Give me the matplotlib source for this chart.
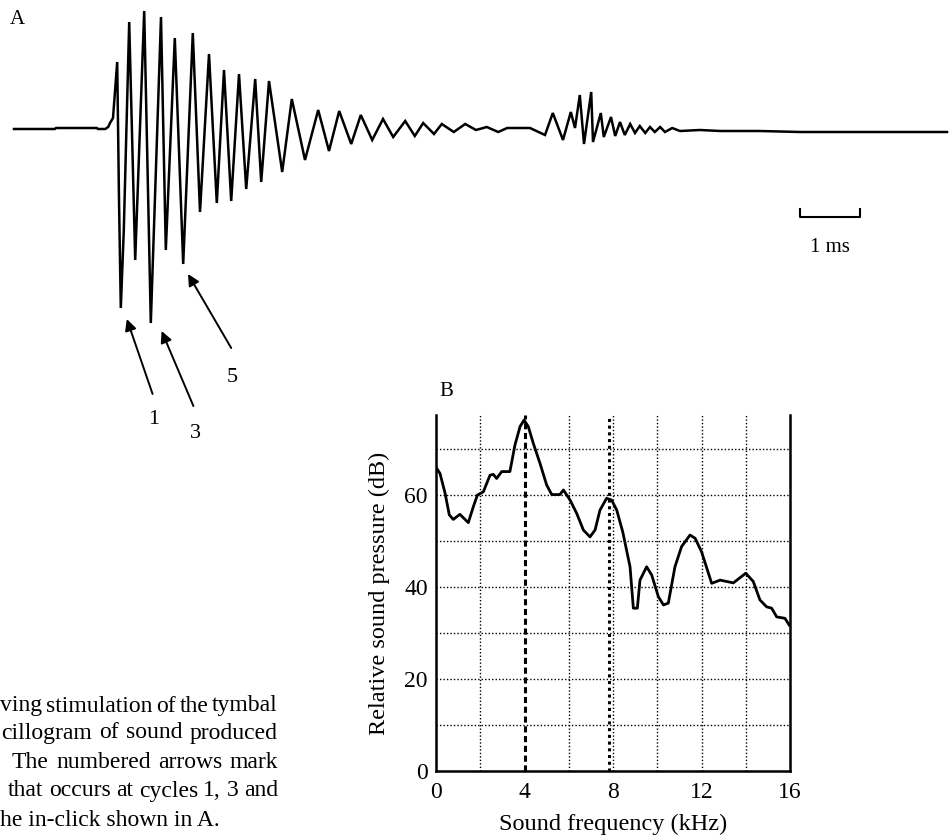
import matplotlib
matplotlib.use("Agg")
import matplotlib.pyplot as plt

plt.rcParams['font.family'] = ['Liberation Serif', 'DejaVu Serif']

# ---- Panel A: oscillogram (time in ms, amplitude in arbitrary units) ----
wave_t = [0.00, 0.68, 0.70, 1.38, 1.40, 1.52, 1.57, 1.60, 1.65, 1.72, 1.75, 1.78, 1.83,
          1.92, 2.02, 2.17, 2.28, 2.45, 2.53, 2.68, 2.82, 2.98, 3.10, 3.25, 3.38, 3.50,
          3.62, 3.75, 3.87, 4.02, 4.12, 4.25, 4.47, 4.63, 4.85, 5.07, 5.25, 5.42, 5.62,
          5.78, 5.97, 6.15, 6.32, 6.52, 6.68, 6.82, 7.00, 7.13, 7.33, 7.52, 7.70, 7.88,
          8.07, 8.22, 8.60, 8.85, 8.98, 9.15, 9.28, 9.35, 9.43, 9.50, 9.62, 9.65, 9.78,
          9.83, 9.95, 10.02, 10.10, 10.18, 10.27, 10.35, 10.43, 10.52, 10.60, 10.68,
          10.77, 10.85, 10.97, 11.10, 11.43, 11.77, 12.43, 13.10, 13.93, 15.55]
wave_amp = [0.0, 0.0, 0.1, 0.1, 0.0, 0.0, 0.2, 0.6, 1.1, 6.7, -7.1, -17.9, -10.1,
            10.7, -13.1, 11.8, -19.4, 11.2, -12.1, 9.1, -13.5, 9.6, -8.3, 7.5, -7.4, 5.9,
            -7.2, 5.5, -6.0, 5.0, -5.3, 4.8, -4.3, 3.0, -3.1, 1.9, -2.2, 1.8, -1.5,
            1.4, -1.1, 1.0, -0.8, 0.8, -0.7, 0.6, -0.5, 0.5, -0.3, 0.5, -0.1, 0.2,
            -0.3, 0.1, 0.1, -0.6, 1.6, -1.1, 1.7, 0.1, 3.4, -1.5, 3.7, -1.3, 1.6,
            -0.8, 1.2, -0.7, 0.7, -0.6, 0.5, -0.4, 0.3, -0.4, 0.2, -0.3,
            0.2, -0.3, 0.1, -0.2, -0.1, -0.2, -0.2, -0.3, -0.3, -0.3]

arrow_labels = ["1", "3", "5"]

# ---- Panel B: spectrum ----
freq_khz = [0.03, 0.18, 0.41, 0.60, 0.78, 1.08, 1.46, 1.69, 1.87, 2.14, 2.44, 2.59, 2.74,
            2.97, 3.34, 3.57, 3.80, 3.98, 4.17, 4.40, 4.70, 5.00, 5.23, 5.60, 5.76, 6.06,
            6.36, 6.66, 6.96, 7.19, 7.41, 7.71, 7.94, 8.17, 8.44, 8.77, 8.92, 9.10, 9.22,
            9.52, 9.75, 10.05, 10.28, 10.50, 10.80, 11.10, 11.48, 11.71, 12.00, 12.24,
            12.46, 12.84, 13.44, 14.00, 14.34, 14.64, 14.94, 15.17, 15.40, 15.77, 15.97]
level_db = [65.8, 64.7, 60.4, 55.7, 54.7, 55.8, 54.0, 57.5, 60.0, 60.7, 64.3, 64.5, 63.6,
            65.1, 65.1, 70.9, 74.9, 76.3, 74.9, 71.2, 66.9, 62.2, 60.1, 60.1, 61.1, 58.9,
            56.0, 52.4, 50.9, 52.4, 56.7, 59.3, 58.9, 56.7, 52.0, 44.4, 35.4, 35.4, 41.5,
            44.4, 42.6, 37.9, 36.1, 36.5, 44.4, 48.8, 51.3, 50.6, 47.7, 44.1,
            40.8, 41.5, 40.9, 43.0, 41.2, 37.2, 35.7, 35.4, 33.5, 33.2, 31.7]
x_ticks = [0, 4, 8, 12, 16]
y_ticks = [0, 20, 40, 60]
x_grid = [2, 6, 8, 10, 12, 14]
y_grid = [10, 20, 30, 40, 50, 60, 70]
peak_dashed = 4.0
peak_dotted = 7.8

# caption fragment (justified lines)
caption = ["ving stimulation of the tymbal",
           "cillogram of sound produced",
           "The numbered arrows mark",
           "that occurs at cycles 1, 3 and",
           "he in-click shown in A."]

W, H = 953, 836
fig = plt.figure(figsize=(W / 100, H / 100), dpi=100)

# Panel A axes spans the whole figure
axA = fig.add_axes([0, 0, 1, 1])
axA.set_xlim(-14 / 60, 939 / 60)
axA.set_ylim(-70.7, 12.9)
axA.axis('off')
axA.plot(wave_t, wave_amp, color='black', lw=1.8, solid_joinstyle='miter')

arrows = [((2.31, -26.5), (1.88, -19.0), (2.32, -29.1)),
          ((2.99, -27.7), (2.46, -20.2), (3.03, -30.5)),
          ((3.62, -21.9), (2.90, -14.5), (3.63, -24.8))]
for (tail, head, lab), txt in zip(arrows, arrow_labels):
    axA.annotate('', xy=head, xytext=tail,
                 arrowprops=dict(arrowstyle='-|>', color='black', lw=1.4,
                                 mutation_scale=17, shrinkA=0, shrinkB=0))
    axA.text(lab[0], lab[1], txt, ha='center', va='center', fontsize=16)

# scale bar 1 ms
axA.plot([13.1, 13.1, 14.1, 14.1], [-8.0, -8.8, -8.8, -8.0], color='black', lw=1.5)
axA.text(13.6, -11.9, '1 ms', ha='center', va='center', fontsize=15)

fig.text(17 / W, 1 - 20 / H, 'A', ha='center', va='center', fontsize=15)
fig.text(446 / W, 1 - 391 / H, 'B', ha='center', va='center', fontsize=15)

# justified caption
cap_fs = 17
cap_y = [706, 733, 762, 791, 820]
cap_left = [0, 1, 12, 8, 0]
cap_right = 278
renderer = fig.canvas.get_renderer()
for i, (line, yy) in enumerate(zip(caption, cap_y)):
    if i == len(caption) - 1:
        fig.text(cap_left[i] / W, 1 - yy / H, line, ha='left', va='center', fontsize=cap_fs)
        continue
    words = line.split(' ')
    objs = [fig.text(0, 1 - yy / H, w, ha='left', va='center', fontsize=cap_fs) for w in words]
    widths = [o.get_window_extent(renderer).width for o in objs]
    gap = (cap_right - cap_left[i] - sum(widths)) / (len(words) - 1)
    x = cap_left[i]
    for o, wd in zip(objs, widths):
        o.set_x(x / W)
        x += wd + gap

# Panel B
axB = fig.add_axes([436 / W, 1 - 771 / H, 354 / W, 356 / H])
axB.set_xlim(0, 16)
axB.set_ylim(0, 77.4)
for x in x_grid:
    axB.axvline(x, color='black', lw=1.0, ls=(0, (1, 1.5)))
for y in y_grid:
    axB.axhline(y, color='black', lw=1.0, ls=(0, (1, 1.5)))
axB.axvline(peak_dashed, color='black', lw=2.2, ls=(0, (2, 1.2)))
axB.axvline(peak_dotted, color='black', lw=2.2, ls=(0, (1, 1.2)))
axB.plot(freq_khz, level_db, color='black', lw=2.0)
axB.spines['top'].set_visible(False)
for s in ['left', 'bottom', 'right']:
    axB.spines[s].set_linewidth(1.8)
axB.set_xticks(x_ticks)
axB.set_yticks(y_ticks)
axB.tick_params(axis='x', length=0, labelsize=17, pad=8)
axB.tick_params(axis='y', length=0, labelsize=17, pad=6)
axB.set_xlabel('Sound frequency (kHz)', fontsize=17.5, labelpad=8)
axB.set_ylabel('Relative sound pressure (dB)', fontsize=17.5, labelpad=10)

fig.savefig('out.png', dpi=100)
